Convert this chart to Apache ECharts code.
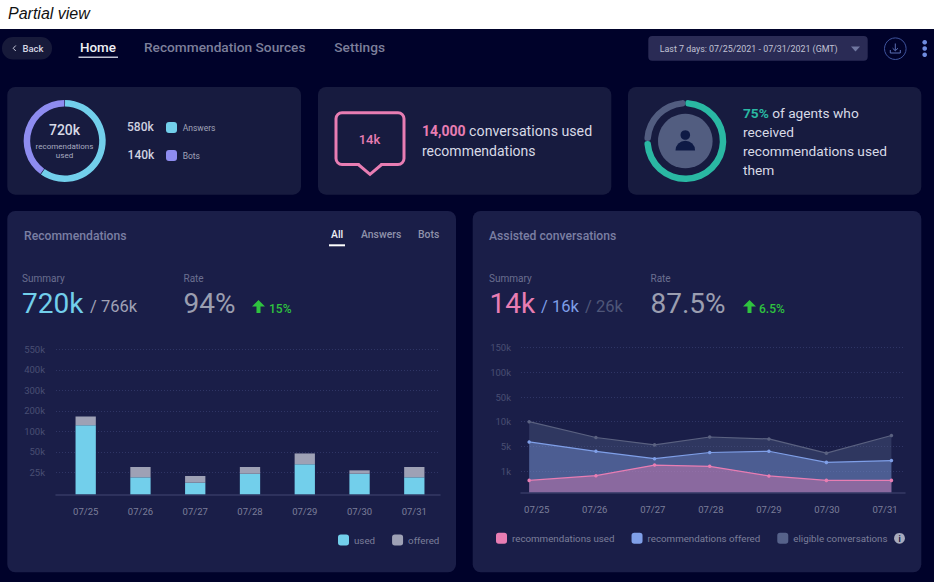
<!DOCTYPE html>
<html>
<head>
<meta charset="utf-8">
<title>Partial view</title>
<script src="https://cdn.jsdelivr.net/npm/echarts@6/dist/echarts.min.js"></script>
<style>
    html, body { margin: 0; padding: 0; background: #00022a; }
    #main { width: 934px; height: 582px; }
</style>
</head>
<body>
<div id="main"></div>
<script>
// rings (share of the ring as drawn)
var sourceRing = [60, 40];
var agentRing = [75, 25];

// recommendations chart, values in k
var days = ['07/25', '07/26', '07/27', '07/28', '07/29', '07/30', '07/31'];
var recUsed = [130, 19.3, 13.2, 23.4, 34.8, 23.4, 19.3];
var recOffered = [172, 31.5, 20.8, 31.5, 48, 27.4, 31.5];
var recTicks = [25, 50, 100, 200, 300, 400, 550];
var recTickLabels = ['25k', '50k', '100k', '200k', '300k', '400k', '550k'];

// assisted conversations chart, values in k
var convX = [-0.13, 1.02, 2.03, 2.98, 4.0, 4.99, 6.11];
var convUsed = [0.56, 0.78, 1.97, 1.76, 0.77, 0.56, 0.56];
var convOffered = [5.9, 4.2, 3.0, 4.0, 4.2, 2.4, 2.7];
var convEligible = [10, 6.8, 5.3, 6.9, 6.5, 3.9, 7.2];
var convTicks = [1, 5, 10, 50, 100, 150];
var convTickLabels = ['1k', '5k', '10k', '50k', '100k', '150k'];

var CARD = '#171b3f', PANEL = '#1a1e48';
var CYAN = '#72cfeb', PURPLE = '#8e8cf0', PINK = '#e87db3', BLUE = '#7f9fe8', TEAL = '#2ab8a3', SLATE = '#525d80', GREEN = '#2fc33f';
var FONT = 'Roboto';

// the y axes are not linear: every tick is one step apart, whatever its value
function stepScale(ticks, firstStep) {
    return function (v) {
        if (v <= ticks[0]) return v / ticks[0] * firstStep;
        for (var i = 1; i < ticks.length; i++) {
            if (v <= ticks[i]) return firstStep + i - 1 + (v - ticks[i - 1]) / (ticks[i] - ticks[i - 1]);
        }
        return firstStep + ticks.length - 1;
    };
}
var recScale = stepScale(recTicks, 1.073);
var convScale = stepScale(convTicks, 0.863);
var recTickPos = recTicks.map(recScale);
var convTickPos = convTicks.map(convScale);

function rect(x, y, w, h, r, fill, z) {
    return { type: 'rect', z: z === undefined ? 0 : z, silent: true, shape: { x: x, y: y, width: w, height: h, r: r }, style: { fill: fill } };
}
function text(x, y, str, size, color, weight, align, family, style) {
    return {
        type: 'text', x: x, y: y, silent: true,
        style: {
            text: str, fill: color, align: align || 'left', verticalAlign: 'middle',
            font: (style ? style + ' ' : '') + (weight || 400) + ' ' + size + 'px ' + (family || FONT)
        }
    };
}
function line(points, stroke, width) {
    return { type: 'polyline', silent: true, shape: { points: points }, style: { stroke: stroke, fill: null, lineWidth: width || 1 } };
}
function circle(cx, cy, r, fill, stroke) {
    return { type: 'circle', silent: true, shape: { cx: cx, cy: cy, r: r }, style: { fill: fill || null, stroke: stroke || null, lineWidth: 1 } };
}
function upArrow(x, y) {
    return { type: 'polygon', silent: true, shape: { points: [[x, y + 6.5], [x + 6.5, y], [x + 13, y + 6.5], [x + 8.5, y + 6.5], [x + 8.5, y + 13], [x + 4.5, y + 13], [x + 4.5, y + 6.5]] }, style: { fill: GREEN } };
}

var elements = [
    // page chrome
    rect(0, 0, 934, 29, 0, '#ffffff', -10),
    text(8, 13.5, 'Partial view', 16, '#111111', 400, 'left', 'Liberation Sans', 'italic'),
    rect(2, 37, 50, 22.5, 11, '#171a3a', -10),
    line([[15.8, 45.5], [13.2, 48.3], [15.8, 51]], '#c8cada', 1),
    text(22.5, 48.5, 'Back', 9.5, '#d4d6e2', 500),
    text(80, 47, 'Home', 13.4, '#eeeff5', 500),
    rect(78.5, 56.5, 39.5, 1.5, 0, '#c0c2d4', -10),
    text(144, 47, 'Recommendation Sources', 13.7, '#7c7f9a', 500),
    text(334.3, 47, 'Settings', 13.7, '#7c7f9a', 500),
    rect(648.3, 36, 219.4, 24.7, 4, '#2a2b55', -10),
    text(659.7, 48.7, 'Last 7 days: 07/25/2021 - 07/31/2021 (GMT)', 8.9, '#c0c2d4'),
    { type: 'polygon', silent: true, shape: { points: [[851, 46.5], [860, 46.5], [855.5, 51.5]] }, style: { fill: '#7077a0' } },
    circle(895.3, 48.7, 10.8, null, '#3f549e'),
    line([[895.3, 43.5], [895.3, 50.5]], '#5a6fb4', 1),
    line([[892.6, 48.2], [895.3, 50.8], [898, 48.2]], '#5a6fb4', 1),
    line([[890.3, 50], [890.3, 53], [900.3, 53], [900.3, 50]], '#5a6fb4', 1),
    circle(924.7, 42.2, 2.3, '#6f8ce0'),
    circle(924.7, 48.5, 2.3, '#6f8ce0'),
    circle(924.7, 54.7, 2.3, '#6f8ce0'),

    // top cards
    rect(7.3, 87, 293.7, 107.7, 8, CARD, -10),
    rect(318, 87, 293.3, 107.7, 8, CARD, -10),
    rect(628, 87, 293.3, 107.7, 8, CARD, -10),

    text(64.5, 130, '720k', 14, '#d8dae6', 500, 'center'),
    text(64.5, 146, 'recomendations', 8, '#a8abc0', 400, 'center'),
    text(64.5, 155.5, 'used', 8, '#a8abc0', 400, 'center'),
    text(127, 127, '580k', 12, '#d0d2e0', 500),
    text(127.6, 154.5, '140k', 12, '#d0d2e0', 500),
    rect(166, 122, 11, 11, 3, CYAN),
    rect(166, 150, 11, 11, 3, PURPLE),
    text(182.7, 128, 'Answers', 8.5, '#a0a3b8'),
    text(182.7, 156, 'Bots', 8.5, '#a0a3b8'),

    { type: 'rect', silent: true, shape: { x: 336, y: 112.7, width: 68, height: 51.8, r: 6 }, style: { fill: null, stroke: PINK, lineWidth: 3 } },
    line([[359.5, 164.5], [380.5, 164.5]], CARD, 4),
    line([[358.3, 164.5], [370, 174.3], [381.7, 164.5]], PINK, 3),
    text(369.5, 139, '14k', 13, PINK, 500, 'center'),
    {
        type: 'text', x: 422, y: 131, silent: true,
        style: {
            text: '{b|14,000} conversations used', fill: '#d8dae6', verticalAlign: 'middle', font: '400 14.2px ' + FONT,
            rich: { b: { fill: PINK, font: '700 14px ' + FONT } }
        }
    },
    text(422, 150.5, 'recommendations', 14, '#d8dae6'),

    circle(685.3, 141, 27.3, SLATE),
    circle(685.3, 135, 4.8, '#0e1a45'),
    { type: 'sector', silent: true, shape: { cx: 685.3, cy: 150.5, r0: 0, r: 9.8, startAngle: Math.PI, endAngle: Math.PI * 2 }, style: { fill: '#0e1a45' } },
    {
        type: 'text', x: 743, y: 113, silent: true,
        style: {
            text: '{b|75%} of agents who', fill: '#d8dae6', verticalAlign: 'middle', font: '400 13.7px ' + FONT,
            rich: { b: { fill: TEAL, font: '700 13.7px ' + FONT } }
        }
    },
    text(743, 132, 'received', 13.7, '#d8dae6'),
    text(743, 151, 'recommendations used', 13.7, '#d8dae6'),
    text(743, 170, 'them', 13.7, '#d8dae6'),

    // recommendations panel
    rect(7.3, 211, 448.7, 361.3, 8, PANEL, -10),
    text(24, 236, 'Recommendations', 12.2, '#7a7fa3', 500),
    text(331, 234.5, 'All', 10.4, '#eeeff5', 500),
    rect(329, 244.3, 16, 2, 0, '#ffffff'),
    text(361, 234.5, 'Answers', 10.4, '#8f92ab', 500),
    text(418, 234.5, 'Bots', 10.4, '#8f92ab', 500),
    text(22, 278, 'Summary', 10, '#6b6f90'),
    text(183.5, 278, 'Rate', 10, '#6b6f90'),
    text(22, 303, '720k', 28, CYAN),
    text(90, 306.5, '/ 766k', 16.5, '#a0a2b5'),
    text(183.5, 303, '94%', 28, '#9b9eb0'),
    upArrow(252, 300),
    text(269, 308.5, '15%', 12, GREEN, 500),

    // assisted conversations panel
    rect(472.7, 211, 448.6, 361.3, 8, PANEL, -10),
    text(489, 236, 'Assisted conversations', 12.2, '#7a7fa3', 500),
    text(489, 278, 'Summary', 10, '#6b6f90'),
    text(650.5, 278, 'Rate', 10, '#6b6f90'),
    text(489.5, 303, '14k', 28, PINK),
    text(541, 306.5, '/ 16k', 16.5, BLUE),
    text(585, 306.5, '/ 26k', 16.5, '#4f5678'),
    text(650.5, 303, '87.5%', 28, '#9b9eb0'),
    upArrow(743, 300),
    text(759, 308.5, '6.5%', 12, GREEN, 500),
    circle(899.5, 538.3, 5.4, '#a8abbd'),
    text(899.5, 538.5, 'i', 8.5, PANEL, 700, 'center')
];

function ring(cx, values, colors, pad, radius) {
    return {
        type: 'pie', silent: true, center: [cx, 141], radius: [34.5, 41], startAngle: 90, padAngle: pad,
        label: { show: false }, labelLine: { show: false }, emphasis: { disabled: true },
        itemStyle: { borderRadius: radius },
        data: values.map(function (v, i) { return { value: v, itemStyle: { color: colors[i] } }; })
    };
}
function yAxis(grid, top, ticks, tickPos, labels, margin) {
    return {
        type: 'value', gridIndex: grid, min: 0, max: top,
        axisLine: { show: false }, axisTick: { show: false, customValues: tickPos },
        axisLabel: {
            customValues: tickPos, margin: margin, color: '#494e73', fontFamily: FONT, fontSize: 9.5,
            formatter: function (v) { return labels[tickPos.indexOf(v)] || ''; }
        },
        splitLine: { lineStyle: { type: [1, 2], color: '#2f3565', width: 1 } }
    };
}
function hiddenY(grid, top) {
    return { type: 'value', gridIndex: grid, min: 0, max: top, show: false };
}
function baseAxis(grid) {
    return {
        type: 'value', gridIndex: grid, min: 0, max: 1, splitLine: { show: false }, axisTick: { show: false }, axisLabel: { show: false },
        axisLine: { show: true, lineStyle: { color: '#363a64', width: 1.5 } }
    };
}
function area(name, values, color, areaColor, axis) {
    return {
        name: name, type: 'line', xAxisIndex: axis, yAxisIndex: axis, silent: true, symbol: 'circle', symbolSize: 3.5, showSymbol: true,
        lineStyle: { color: color, width: 1.2 }, itemStyle: { color: color }, areaStyle: { color: areaColor, opacity: 1 },
        data: values.map(function (v, i) { return [convX[i], convScale(v)]; })
    };
}

var recTop = recTickPos[recTickPos.length - 1];
var convTop = convTickPos[convTickPos.length - 1];
var legendText = { color: '#7c7f9a', fontFamily: FONT, fontSize: 9.75 };

var myChart = echarts.init(document.getElementById('main'), null, { renderer: 'svg', width: 934, height: 582 });
var option = {
    backgroundColor: '#00022a',
    animation: false,
    graphic: { elements: elements },
    grid: [
        { left: 56, top: 349.3, width: 384, height: 145, outerBoundsMode: 'none' },
        { left: 58.3, top: 349.3, width: 383.4, height: 145, outerBoundsMode: 'none' },
        { left: 521, top: 347.7, width: 384, height: 144.6, outerBoundsMode: 'none' },
        { left: 478.65, top: 347.7, width: 435.4, height: 144.6, outerBoundsMode: 'none' }
    ],
    xAxis: [
        baseAxis(0),
        {
            type: 'category', gridIndex: 1, data: days, axisLine: { show: false }, axisTick: { show: false },
            axisLabel: { margin: 12, color: '#7c7f9a', fontFamily: FONT, fontSize: 9.5 }
        },
        baseAxis(2),
        {
            type: 'value', gridIndex: 3, min: -1, max: 6.5, interval: 1, axisLine: { show: false }, axisTick: { show: false }, splitLine: { show: false },
            axisLabel: {
                margin: 12, color: '#7c7f9a', fontFamily: FONT, fontSize: 9.5,
                formatter: function (v) { return days[v] || ''; }
            }
        }
    ],
    yAxis: [
        yAxis(0, recTop, recTicks, recTickPos, recTickLabels, 11),
        hiddenY(1, recTop),
        yAxis(2, convTop, convTicks, convTickPos, convTickLabels, 10),
        hiddenY(3, convTop)
    ],
    legend: [
        {
            left: 338, top: 534.5, icon: 'roundRect', itemWidth: 11, itemHeight: 11, itemGap: 17, selectedMode: false, padding: 0,
            textStyle: legendText, data: ['used', 'offered']
        },
        {
            left: 496, top: 532.8, icon: 'roundRect', itemWidth: 11, itemHeight: 11, itemGap: 17, selectedMode: false, padding: 0,
            textStyle: legendText,
            data: [
                { name: 'recommendations used', itemStyle: { color: PINK } },
                { name: 'recommendations offered', itemStyle: { color: BLUE } },
                { name: 'eligible conversations', itemStyle: { color: '#56628a' } }
            ]
        }
    ],
    series: [
        ring(64.7, sourceRing, [CYAN, PURPLE], 1, 0),
        ring(685.3, agentRing, [TEAL, SLATE], 0, 3),
        {
            name: 'used', type: 'bar', xAxisIndex: 1, yAxisIndex: 1, stack: 'rec', barWidth: 20.3, silent: true,
            itemStyle: { color: CYAN },
            data: recUsed.map(function (v) { return recScale(v); })
        },
        {
            name: 'offered', type: 'bar', xAxisIndex: 1, yAxisIndex: 1, stack: 'rec', barWidth: 20.3, silent: true,
            itemStyle: { color: '#9ea1b5' },
            data: recOffered.map(function (v, i) { return recScale(v) - recScale(recUsed[i]); })
        },
        area('eligible conversations', convEligible, '#5a6180', 'rgba(86,99,138,0.36)', 3),
        area('recommendations offered', convOffered, BLUE, 'rgba(127,159,232,0.37)', 3),
        area('recommendations used', convUsed, PINK, 'rgba(232,125,179,0.4)', 3)
    ]
};
myChart.setOption(option);
</script>
</body>
</html>
